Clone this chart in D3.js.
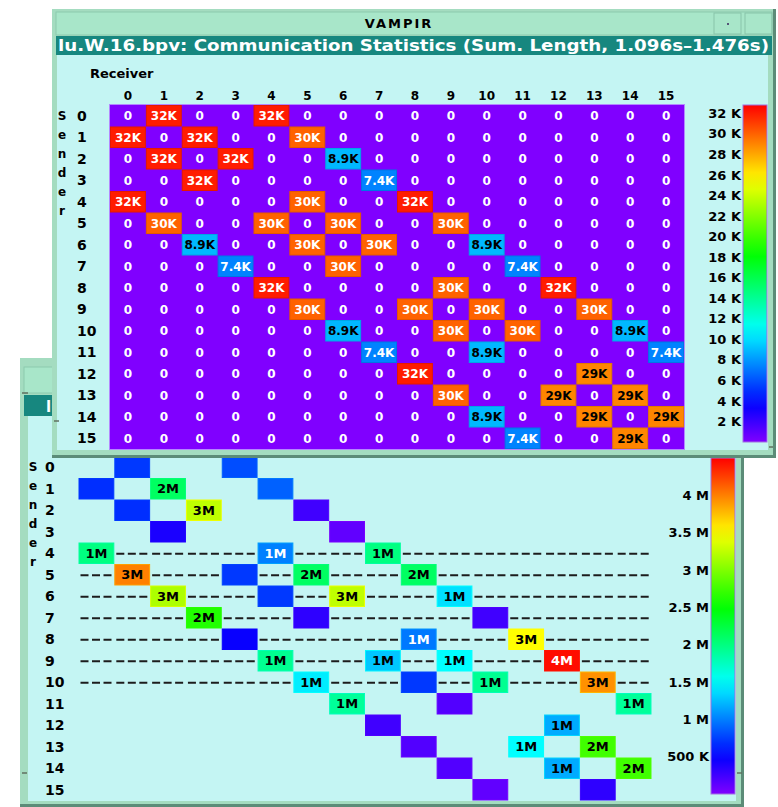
<!DOCTYPE html>
<html>
<head>
<meta charset="utf-8">
<script src="https://cdn.jsdelivr.net/npm/d3@7"></script>
<style>
  body { margin: 0; background: #fff; }
  svg { display: block; }
</style>
</head>
<body>
<script>
// process ranks (sender rows / receiver columns)
var processes = [0, 1, 2, 3, 4, 5, 6, 7, 8, 9, 10, 11, 12, 13, 14, 15];
var senderLetters = ['S', 'e', 'n', 'd', 'e', 'r'];

// top window: message length sums, [sender, receiver, bytes, label]; all others are 0
var lengthCells = [
  [0, 1, 32000, '32K'], [0, 4, 32000, '32K'],
  [1, 0, 32000, '32K'], [1, 2, 32000, '32K'], [1, 5, 30000, '30K'],
  [2, 1, 32000, '32K'], [2, 3, 32000, '32K'], [2, 6, 8900, '8.9K'],
  [3, 2, 32000, '32K'], [3, 7, 7400, '7.4K'],
  [4, 0, 32000, '32K'], [4, 5, 30000, '30K'], [4, 8, 32000, '32K'],
  [5, 1, 30000, '30K'], [5, 4, 30000, '30K'], [5, 6, 30000, '30K'], [5, 9, 30000, '30K'],
  [6, 2, 8900, '8.9K'], [6, 5, 30000, '30K'], [6, 7, 30000, '30K'], [6, 10, 8900, '8.9K'],
  [7, 3, 7400, '7.4K'], [7, 6, 30000, '30K'], [7, 11, 7400, '7.4K'],
  [8, 4, 32000, '32K'], [8, 9, 30000, '30K'], [8, 12, 32000, '32K'],
  [9, 5, 30000, '30K'], [9, 8, 30000, '30K'], [9, 10, 30000, '30K'], [9, 13, 30000, '30K'],
  [10, 6, 8900, '8.9K'], [10, 9, 30000, '30K'], [10, 11, 30000, '30K'], [10, 14, 8900, '8.9K'],
  [11, 7, 7400, '7.4K'], [11, 10, 8900, '8.9K'], [11, 15, 7400, '7.4K'],
  [12, 8, 32000, '32K'], [12, 13, 29000, '29K'],
  [13, 9, 30000, '30K'], [13, 12, 29000, '29K'], [13, 14, 29000, '29K'],
  [14, 10, 8900, '8.9K'], [14, 13, 29000, '29K'], [14, 15, 29000, '29K'],
  [15, 11, 7400, '7.4K'], [15, 14, 29000, '29K']
];
var lengthMax = 32800;
var lengthTicks = [2000, 4000, 6000, 8000, 10000, 12000, 14000, 16000,
  18000, 20000, 22000, 24000, 26000, 28000, 30000, 32000];

// bottom window: message volume, [sender, receiver, bytes, label]
var volumeCells = [
  [0, 1, 720000, ''], [0, 4, 800000, ''],
  [1, 0, 680000, ''], [1, 2, 2120000, '2M'], [1, 5, 880000, ''],
  [2, 1, 680000, ''], [2, 3, 3250000, '3M'], [2, 6, 250000, ''],
  [3, 2, 400000, ''], [3, 7, 120000, ''],
  [4, 0, 2000000, '1M'], [4, 5, 1000000, '1M'], [4, 8, 2000000, '1M'],
  [5, 1, 4000000, '3M'], [5, 4, 720000, ''], [5, 6, 2120000, '2M'], [5, 9, 2120000, '2M'],
  [6, 2, 3180000, '3M'], [6, 5, 720000, ''], [6, 7, 3250000, '3M'], [6, 10, 1380000, '1M'],
  [7, 3, 2630000, '2M'], [7, 6, 320000, ''], [7, 11, 250000, ''],
  [8, 4, 470000, ''], [8, 9, 970000, '1M'], [8, 12, 3500000, '3M'],
  [9, 5, 1930000, '1M'], [9, 8, 1280000, '1M'], [9, 10, 1500000, '1M'], [9, 13, 4450000, '4M'],
  [10, 6, 1430000, '1M'], [10, 9, 720000, ''], [10, 11, 1930000, '1M'], [10, 14, 3930000, '3M'],
  [11, 7, 1900000, '1M'], [11, 10, 180000, ''], [11, 15, 1900000, '1M'],
  [12, 8, 250000, ''], [12, 13, 1170000, '1M'],
  [13, 9, 180000, ''], [13, 12, 1500000, '1M'], [13, 14, 2750000, '2M'],
  [14, 10, 180000, ''], [14, 13, 1170000, '1M'], [14, 15, 2750000, '2M'],
  [15, 11, 120000, ''], [15, 14, 320000, '']
];
var volumeMax = 4500000;
var volumeTicks = [500000, 1000000, 1500000, 2000000, 2500000, 3000000, 3500000, 4000000];
var dashedRows = [4, 5, 6, 7, 8, 9, 10];

var FONT = 'DejaVu Sans, sans-serif';
var frameColor = '#a4dcc0';
var titleColor = '#a8e6c9';
var tealColor = '#17877f';
var contentColor = '#c4f5f3';
var shadowColor = '#5c8c78';

var svg = d3.select('body').append('svg')
  .attr('width', 778)
  .attr('height', 807)
  .style('background', '#fff');
var defs = svg.append('defs');

// hue goes from purple (270) down to red (0)
function rainbow(max) {
  var hue = d3.scaleLinear().domain([0, max]).range([270, 0]).clamp(true);
  var f = function (v) { return d3.hsl(hue(v), 1, 0.5).formatHex(); };
  f.hue = hue;
  return f;
}
function textColor(scale, v) {
  var h = scale.hue(v);
  return (h >= 25 && h <= 205) ? '#000' : '#fff';
}

function drawWindow(w) {
  var g = svg.append('g');
  g.append('rect')
    .attr('x', w.x0).attr('y', w.y0)
    .attr('width', w.x1 - w.x0).attr('height', w.y1 - w.y0)
    .attr('fill', frameColor);
  g.append('path')
    .attr('d', 'M' + (w.x1 - 1.5) + ',' + w.y0 + 'V' + (w.y1 - 1.5) + 'H' + w.x0)
    .attr('fill', 'none')
    .attr('stroke', shadowColor)
    .attr('stroke-width', 3);
  g.append('rect')
    .attr('x', w.x0 + 4).attr('y', w.titleY)
    .attr('width', w.x1 - w.x0 - 8).attr('height', w.titleH)
    .attr('fill', titleColor)
    .attr('stroke', '#8ccaae');
  g.append('rect')
    .attr('x', w.x0 + 4).attr('y', w.subY)
    .attr('width', w.x1 - w.x0 - 8).attr('height', w.subH)
    .attr('fill', tealColor);
  g.append('rect')
    .attr('x', w.cx0).attr('y', w.subY + w.subH)
    .attr('width', w.cx1 - w.cx0).attr('height', w.cy1 - w.subY - w.subH)
    .attr('fill', contentColor);
  var sub = g.append('text')
    .attr('x', w.subX)
    .attr('y', w.subY + w.subH - 4)
    .attr('fill', '#fff')
    .attr('font-family', FONT)
    .attr('font-weight', 'bold')
    .attr('font-size', 15)
    .text(w.subtitle);
  if (w.subLen) {
    sub.attr('textLength', w.subLen).attr('lengthAdjust', 'spacingAndGlyphs');
  }
  if (w.subClip) {
    defs.append('clipPath').attr('id', w.subClip.id)
      .append('rect')
      .attr('x', w.x0).attr('y', w.subY)
      .attr('width', w.subClip.w).attr('height', w.subH);
    sub.attr('clip-path', 'url(#' + w.subClip.id + ')');
  }
  return g;
}

function senderLabel(g, x, y0) {
  g.append('g')
    .selectAll('text')
    .data(senderLetters)
    .join('text')
    .attr('x', x)
    .attr('y', function (d, i) { return y0 + i * 19; })
    .attr('dy', '0.35em')
    .attr('text-anchor', 'middle')
    .attr('font-family', FONT)
    .attr('font-weight', 'bold')
    .attr('font-size', 12)
    .text(function (d) { return d; });
}

function rowLabels(g, y, x) {
  g.append('g')
    .selectAll('text')
    .data(processes)
    .join('text')
    .attr('x', x)
    .attr('y', function (d) { return y(d) + y.bandwidth() / 2; })
    .attr('dy', '0.36em')
    .attr('font-family', FONT)
    .attr('font-weight', 'bold')
    .attr('font-size', 14)
    .text(function (d) { return d; });
}

function legend(g, id, scale, max, ticks, x, y0, y1, fmt) {
  var yl = d3.scaleLinear().domain([0, max]).range([y1, y0]);
  var grad = defs.append('linearGradient')
    .attr('id', id)
    .attr('x1', 0).attr('y1', 1).attr('x2', 0).attr('y2', 0);
  grad.selectAll('stop')
    .data(d3.range(0, 1.0001, 0.05))
    .join('stop')
    .attr('offset', function (d) { return d; })
    .attr('stop-color', function (d) { return scale(d * max); });
  g.append('rect')
    .attr('x', x).attr('y', y0)
    .attr('width', 24).attr('height', y1 - y0)
    .attr('fill', 'url(#' + id + ')')
    .attr('stroke', '#a070e0')
    .attr('stroke-width', 1);
  var ax = g.append('g')
    .attr('transform', 'translate(' + (x - 2) + ',0)')
    .call(d3.axisLeft(yl).tickValues(ticks).tickSize(0).tickPadding(0).tickFormat(fmt));
  ax.select('.domain').remove();
  ax.selectAll('text')
    .attr('font-family', FONT)
    .attr('font-weight', 'bold')
    .attr('font-size', 13)
    .attr('fill', '#000');
}

// ---------------- bottom window (mostly hidden behind the top one) ----------------
var bottomWin = drawWindow({
  x0: 20, y0: 358, x1: 744, y1: 807,
  titleY: 367, titleH: 26, subY: 395, subH: 21,
  cx0: 28, cx1: 736, cy1: 801,
  subX: 46,
  subtitle: 'lu',
  subClip: { id: 'subClipBottom', w: 32 }
});

var volColor = rainbow(volumeMax);
var x2 = d3.scaleBand().domain(processes).range([78.5, 651.5]);
var y2 = d3.scaleBand().domain(processes).range([456.5, 800.5]);

senderLabel(bottomWin, 33, 467);
rowLabels(bottomWin, y2, 45);

var volLookup = {};
volumeCells.forEach(function (c) { volLookup[c[0] + '-' + c[1]] = c; });

// dashed filler in the empty cells of the middle rows
var dashCells = [];
dashedRows.forEach(function (r) {
  processes.forEach(function (c) {
    if (!volLookup[r + '-' + c]) dashCells.push([r, c]);
  });
});
bottomWin.append('g')
  .selectAll('line')
  .data(dashCells)
  .join('line')
  .attr('x1', function (d) { return x2(d[1]) + 2; })
  .attr('x2', function (d) { return x2(d[1]) + x2.bandwidth() - 2; })
  .attr('y1', function (d) { return y2(d[0]) + y2.bandwidth() / 2 + 0.5; })
  .attr('y2', function (d) { return y2(d[0]) + y2.bandwidth() / 2 + 0.5; })
  .attr('stroke', '#1c1c1c')
  .attr('stroke-width', 2)
  .attr('stroke-dasharray', '8,3.5');

var vc = bottomWin.append('g')
  .selectAll('g')
  .data(volumeCells)
  .join('g');
vc.append('rect')
  .attr('x', function (d) { return x2(d[1]) + 0.5; })
  .attr('y', function (d) { return y2(d[0]) + 0.5; })
  .attr('width', x2.bandwidth() - 1)
  .attr('height', y2.bandwidth() - 1)
  .attr('fill', function (d) { return volColor(d[2]); })
  .attr('stroke', function (d) { return d3.color(volColor(d[2])).brighter(0.6).formatHex(); });
vc.append('text')
  .attr('x', function (d) { return x2(d[1]) + x2.bandwidth() / 2; })
  .attr('y', function (d) { return y2(d[0]) + y2.bandwidth() / 2; })
  .attr('dy', '0.36em')
  .attr('text-anchor', 'middle')
  .attr('font-family', FONT)
  .attr('font-weight', 'bold')
  .attr('font-size', 13)
  .attr('fill', function (d) { return textColor(volColor, d[2]); })
  .text(function (d) { return d[3]; });

legend(bottomWin, 'volGrad', volColor, volumeMax, volumeTicks, 711, 458, 794, function (d) {
  return d < 1000000 ? (d / 1000) + ' K' : (d / 1000000) + ' M';
});

// resize grips
bottomWin.append('g')
  .selectAll('line')
  .data([[22, 393, 28, 393], [22, 773, 27, 773], [737, 773, 742, 773]])
  .join('line')
  .attr('x1', function (d) { return d[0]; }).attr('y1', function (d) { return d[1]; })
  .attr('x2', function (d) { return d[2]; }).attr('y2', function (d) { return d[3]; })
  .attr('stroke', '#607060')
  .attr('stroke-width', 1.5);

// ---------------- top window ----------------
var topWin = drawWindow({
  x0: 52, y0: 9, x1: 776, y1: 458,
  titleY: 12, titleH: 23, subY: 36, subH: 19,
  cx0: 57, cx1: 768, cy1: 450,
  subX: 58, subLen: 711,
  subtitle: 'lu.W.16.bpv: Communication Statistics (Sum. Length, 1.096s\u20131.476s)'
});

topWin.append('text')
  .attr('x', 399)
  .attr('y', 28)
  .attr('text-anchor', 'middle')
  .attr('font-family', FONT)
  .attr('font-weight', 'bold')
  .attr('font-size', 13)
  .attr('letter-spacing', 2)
  .text('VAMPIR');
// title bar buttons
topWin.append('g')
  .selectAll('rect')
  .data([714, 745])
  .join('rect')
  .attr('x', function (d) { return d; })
  .attr('y', 13)
  .attr('width', 27)
  .attr('height', 21)
  .attr('fill', 'none')
  .attr('stroke', '#88c4aa');
topWin.append('rect').attr('x', 727).attr('y', 23).attr('width', 2).attr('height', 2).attr('fill', '#557');

topWin.append('text')
  .attr('x', 90)
  .attr('y', 78)
  .attr('font-family', FONT)
  .attr('font-weight', 'bold')
  .attr('font-size', 13)
  .text('Receiver');

var lenColor = rainbow(lengthMax);
var x1 = d3.scaleBand().domain(processes).range([110, 684]);
var y1 = d3.scaleBand().domain(processes).range([105, 449]);

// column labels
topWin.append('g')
  .selectAll('text')
  .data(processes)
  .join('text')
  .attr('x', function (d) { return x1(d) + x1.bandwidth() / 2; })
  .attr('y', 100)
  .attr('text-anchor', 'middle')
  .attr('font-family', FONT)
  .attr('font-weight', 'bold')
  .attr('font-size', 12)
  .text(function (d) { return d; });

senderLabel(topWin, 62, 115.5);
rowLabels(topWin, y1, 77);

var lenLookup = {};
lengthCells.forEach(function (c) { lenLookup[c[0] + '-' + c[1]] = c; });
var fullMatrix = [];
processes.forEach(function (r) {
  processes.forEach(function (c) {
    fullMatrix.push(lenLookup[r + '-' + c] || [r, c, 0, '0']);
  });
});

topWin.append('rect')
  .attr('x', 109.5).attr('y', 104.5)
  .attr('width', 575).attr('height', 345)
  .attr('fill', lenColor(0))
  .attr('stroke', '#b488ff');

var lc = topWin.append('g')
  .selectAll('g')
  .data(fullMatrix)
  .join('g');
lc.filter(function (d) { return d[2] > 0; })
  .append('rect')
  .attr('x', function (d) { return x1(d[1]) + 0.5; })
  .attr('y', function (d) { return y1(d[0]) + 0.5; })
  .attr('width', x1.bandwidth() - 1)
  .attr('height', y1.bandwidth() - 1)
  .attr('fill', function (d) { return lenColor(d[2]); })
  .attr('stroke', function (d) { return d3.color(lenColor(d[2])).darker(0.3).formatHex(); });
lc.append('text')
  .attr('x', function (d) { return x1(d[1]) + x1.bandwidth() / 2; })
  .attr('y', function (d) { return y1(d[0]) + y1.bandwidth() / 2; })
  .attr('dy', '0.36em')
  .attr('text-anchor', 'middle')
  .attr('font-family', FONT)
  .attr('font-weight', 'bold')
  .attr('font-size', 12)
  .attr('fill', function (d) { return textColor(lenColor, d[2]); })
  .text(function (d) { return d[3]; });

legend(topWin, 'lenGrad', lenColor, lengthMax, lengthTicks, 743, 105, 442, function (d) {
  return (d / 1000) + ' K';
});
topWin.append('line')
  .attr('x1', 769).attr('x2', 773).attr('y1', 447).attr('y2', 447)
  .attr('stroke', '#607060').attr('stroke-width', 1.5);
topWin.append('line')
  .attr('x1', 54).attr('x2', 59).attr('y1', 421).attr('y2', 421)
  .attr('stroke', '#607060').attr('stroke-width', 1.5);
</script>
</body>
</html>
